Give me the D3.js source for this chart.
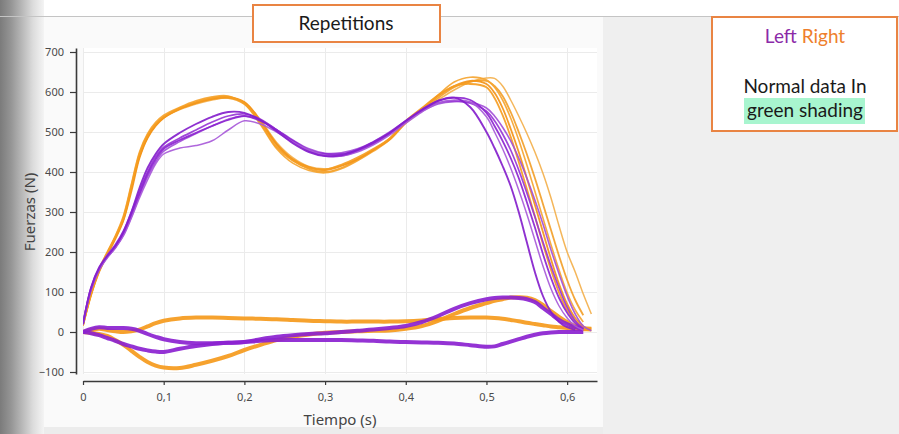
<!DOCTYPE html>
<html>
<head>
<meta charset="utf-8">
<script src="https://cdn.jsdelivr.net/npm/d3@7"></script>
<style>
    body { margin: 0; background: #efefef; }
    svg { display: block; }
</style>
</head>
<body>
<script>
// time grid (s)
const timeS = [0, .01, .02, .03, .04, .05, .06, .07, .08, .09, .10,
    .12, .14, .16, .18, .20, .22, .24, .26, .28, .30, .32, .34, .36, .38, .40, .42, .44, .46, .48, .50,
    .51, .52, .53, .54, .55, .56, .57, .58, .59, .60, .61, .62, .63];

// left (purple) vertical force, one array per repetition (N)
const leftRep1 = [20, 110, 160, 190, 215, 250, 300, 360, 410, 445, 470,
    498, 520, 538, 550, 548, 530, 502, 472, 450, 440, 442, 455, 475, 498, 528, 555, 578, 586, 562, 500,
    460, 415, 365, 300, 225, 150, 90, 50, 25, 12, 5, null, null];
const leftRep2 = [20, 105, 155, 185, 210, 240, 285, 335, 380, 420, 445,
    460, 466, 478, 505, 528, 520, 500, 475, 455, 442, 440, 450, 468, 492, 522, 550, 572, 580, 575, 538,
    500, 458, 410, 355, 295, 230, 165, 108, 65, 35, 15, 5, null];
const leftRep3 = [22, 108, 158, 188, 212, 245, 292, 345, 395, 432, 458,
    480, 498, 515, 530, 540, 528, 505, 478, 455, 445, 445, 455, 472, 497, 527, 556, 578, 586, 580, 548,
    515, 478, 435, 385, 325, 262, 195, 135, 85, 48, 22, 8, null];
const leftRep4 = [20, 112, 162, 192, 218, 252, 300, 352, 400, 438, 462,
    485, 505, 525, 540, 545, 532, 505, 476, 452, 440, 440, 452, 470, 495, 525, 553, 573, 578, 572, 552,
    528, 495, 455, 405, 348, 288, 225, 165, 110, 62, 28, 8, null];
const leftRep5 = [18, 105, 155, 186, 210, 242, 288, 340, 388, 425, 452,
    476, 496, 515, 532, 540, 530, 506, 480, 458, 447, 448, 458, 476, 500, 528, 552, 570, 576, 574, 560,
    540, 512, 478, 435, 385, 330, 270, 205, 145, 90, 45, 15, 3];

// right (orange) vertical force
const rightRep1 = [17, 95, 155, 198, 238, 285, 365, 445, 492, 520, 538,
    560, 575, 585, 588, 572, 522, 462, 428, 410, 406, 418, 436, 458, 484, 528, 560, 592, 615, 620, 612,
    585, 542, 488, 425, 358, 290, 220, 155, 98, 55, 28, 12, null];
const rightRep2 = [16, 92, 150, 192, 232, 278, 352, 435, 485, 515, 535,
    558, 573, 583, 587, 575, 528, 470, 432, 412, 405, 415, 432, 455, 482, 525, 558, 590, 615, 628, 620,
    598, 560, 508, 450, 385, 318, 250, 182, 120, 70, 35, 15, null];
const rightRep3 = [18, 98, 158, 200, 240, 290, 370, 450, 496, 524, 542,
    562, 578, 588, 590, 570, 518, 458, 422, 404, 398, 408, 428, 452, 480, 522, 556, 592, 625, 637, 630,
    612, 580, 535, 480, 418, 352, 285, 218, 155, 98, 55, 25, null];
const rightRep4 = [17, 94, 152, 195, 236, 282, 360, 440, 488, 518, 537,
    558, 572, 582, 585, 570, 525, 468, 430, 408, 400, 410, 430, 455, 483, 525, 555, 585, 612, 626, 628,
    615, 590, 550, 500, 445, 385, 320, 255, 190, 130, 80, 42, null];
const rightRep5 = [17, 96, 154, 196, 235, 280, 358, 438, 486, 516, 535,
    556, 570, 580, 585, 574, 530, 474, 436, 414, 408, 416, 432, 456, 482, 522, 552, 580, 605, 625, 635,
    634, 615, 580, 540, 497, 450, 397, 335, 265, 200, 150, 95, 45];

// small horizontal components
const rightShearA = [0, 5, 8, 5, 2, 0, 2, 6, 14, 22, 28,
    34, 36, 36, 35, 34, 33, 32, 30, 28, 27, 26, 26, 26, 26, 27, 29, 32, 35, 36, 36,
    35, 33, 30, 27, 23, 20, 17, 14, 12, 10, 8, 7, 6];
const rightShearB = [0, -2, -5, -10, -20, -32, -47, -62, -75, -84, -89,
    -90, -82, -72, -60, -45, -32, -20, -12, -6, -2, 0, 2, 3, 4, 8, 15, 28, 45, 60, 72,
    78, 82, 86, 87, 86, 80, 68, 52, 38, 25, 15, 10, 8];
const leftShearA = [0, 8, 12, 10, 10, 10, 8, 3, -5, -12, -18,
    -25, -28, -28, -27, -25, -18, -12, -8, -5, -3, 0, 3, 6, 10, 15, 25, 40, 58, 72, 82,
    85, 86, 86, 85, 82, 75, 60, 45, 30, 20, 12, 6, null];
const leftShearB = [0, -3, -8, -15, -22, -30, -36, -42, -46, -49, -50,
    -42, -35, -30, -27, -25, -22, -20, -20, -20, -20, -20, -21, -22, -24, -25, -26, -27, -29, -33, -37,
    -36, -30, -24, -18, -12, -7, -3, -1, 0, 0, 0, 0, null];

const yTicks = [-100, 0, 100, 200, 300, 400, 500, 600, 700];
const xTicks = [0, .1, .2, .3, .4, .5, .6];

const W = 899, H = 434;
const svg = d3.select('body').append('svg').attr('width', W).attr('height', H);

// backdrop of the slide
const defs = svg.append('defs');
const grad = defs.append('linearGradient').attr('id', 'edge').attr('x1', 0).attr('x2', 1);
[[0, '#7b7b7b'], [.25, '#959595'], [.5, '#b8b8b8'], [.75, '#dcdcdc'], [1, '#f4f4f4']]
    .forEach(s => grad.append('stop').attr('offset', s[0]).attr('stop-color', s[1]));

svg.append('rect').attr('width', W).attr('height', H).attr('fill', '#efefef');
svg.append('rect').attr('width', W).attr('height', 16).attr('fill', '#fff');
svg.append('rect').attr('x', 42).attr('y', 17).attr('width', 561).attr('height', 410).attr('fill', '#fafafa');
svg.append('rect').attr('x', 42).attr('y', 427).attr('width', 561).attr('height', 7).attr('fill', '#ececec');
svg.append('rect').attr('width', 44).attr('height', H).attr('fill', 'url(#edge)');
svg.append('line').attr('x1', 0).attr('x2', W).attr('y1', 16.5).attr('y2', 16.5)
    .attr('stroke', '#c4c4c4');

const x = d3.scaleLinear().domain([0, 0.637]).range([83, 597]);
const y = d3.scaleLinear().domain([-105, 710]).range([374, 48]);

svg.append('rect').attr('x', 83).attr('y', 48).attr('width', 514).attr('height', 326).attr('fill', '#fff');

// grid
const grid = svg.append('g').attr('stroke', '#ebebeb').attr('stroke-width', 1);
grid.selectAll('.gy').data(yTicks).join('line')
    .attr('x1', 83).attr('x2', 597)
    .attr('y1', d => Math.round(y(d)) + .5).attr('y2', d => Math.round(y(d)) + .5);
grid.selectAll('.gx').data(xTicks).join('line')
    .attr('y1', 48).attr('y2', 374)
    .attr('x1', d => Math.round(x(d)) + .5).attr('x2', d => Math.round(x(d)) + .5);

// axes
const esFormat = d3.formatLocale({decimal: ',', thousands: '.', grouping: [3], currency: ['', '']}).format('.1~f');

const gy = svg.append('g').attr('transform', 'translate(76,0)')
    .call(d3.axisLeft(y).tickValues(yTicks).tickSize(6).tickSizeOuter(0).tickPadding(6));
const gx = svg.append('g').attr('transform', 'translate(0,381)')
    .call(d3.axisBottom(x).tickValues(xTicks).tickSize(4).tickSizeOuter(0).tickPadding(8).tickFormat(esFormat));
[gy, gx].forEach(g => {
    g.select('.domain').attr('stroke', '#3a3a3a').attr('stroke-width', 1.6);
    g.selectAll('.tick line').attr('stroke', '#3a3a3a').attr('stroke-width', 1.2);
    g.selectAll('.tick text').attr('fill', '#4a4a4a')
        .style('font-family', '"Noto Sans", sans-serif').style('font-size', '11px');
});

svg.append('text').attr('x', 340).attr('y', 425).attr('text-anchor', 'middle')
    .attr('fill', '#444').style('font-family', '"Noto Sans", sans-serif').style('font-size', '15px')
    .text('Tiempo (s)');
svg.append('text').attr('transform', 'translate(35,212) rotate(-90)').attr('text-anchor', 'middle')
    .attr('fill', '#444').style('font-family', '"Noto Sans", sans-serif').style('font-size', '15px')
    .text('Fuerzas (N)');

// curves
defs.append('clipPath').attr('id', 'plot').append('rect')
    .attr('x', 83).attr('y', 40).attr('width', 514).attr('height', 340);

const line = d3.line()
    .defined(d => d[1] !== null)
    .x(d => x(d[0])).y(d => y(d[1]))
    .curve(d3.curveCatmullRom.alpha(0.5));
const pts = vals => timeS.map((t, i) => [t, vals[i]]);

const series = [
    {v: rightShearA, c: '#f59a1c', w: 4},
    {v: rightShearB, c: '#f59a1c', w: 4},
    {v: leftShearB, c: '#8b22d0', w: 4},
    {v: leftShearA, c: '#8b22d0', w: 4},
    {v: rightRep5, c: '#f3b04c', w: 1.5},
    {v: rightRep4, c: '#f2a02a', w: 1.8},
    {v: rightRep3, c: '#f5a531', w: 1.6},
    {v: rightRep2, c: '#f39418', w: 1.8},
    {v: rightRep1, c: '#f59d22', w: 1.8},
    {v: leftRep5, c: '#a24fd8', w: 1.6},
    {v: leftRep4, c: '#9836d6', w: 1.7},
    {v: leftRep3, c: '#8c25d0', w: 1.8},
    {v: leftRep2, c: '#a85ad9', w: 1.5},
    {v: leftRep1, c: '#8420cc', w: 1.9}
];

svg.append('g').attr('clip-path', 'url(#plot)').attr('fill', 'none')
    .selectAll('path').data(series).join('path')
    .attr('stroke', d => d.c).attr('stroke-width', d => d.w)
    .attr('stroke-opacity', .92).attr('stroke-linejoin', 'round')
    .attr('d', d => line(pts(d.v)));

// title box
const lbl = '"Lato", "Noto Sans", sans-serif';
svg.append('rect').attr('x', 253).attr('y', 5).attr('width', 187).attr('height', 37)
    .attr('fill', '#fff').attr('stroke', '#e98443').attr('stroke-width', 2);
svg.append('text').attr('x', 346).attr('y', 30).attr('text-anchor', 'middle')
    .attr('fill', '#1a1a1a').style('font-family', lbl).style('font-size', '19px')
    .text('Repetitions');

// legend box
svg.append('rect').attr('x', 712).attr('y', 17).attr('width', 185).attr('height', 114)
    .attr('fill', '#fff').attr('stroke', '#e98443').attr('stroke-width', 2);
const t1 = svg.append('text').attr('x', 805).attr('y', 43).attr('text-anchor', 'middle')
    .style('font-family', lbl).style('font-size', '19px');
t1.append('tspan').attr('fill', '#8b2aa8').text('Left ');
t1.append('tspan').attr('fill', '#ee7f2d').text('Right');
svg.append('rect').attr('x', 744).attr('y', 98).attr('width', 121).attr('height', 26).attr('fill', '#a8f5cf');
svg.append('text').attr('x', 805).attr('y', 93).attr('text-anchor', 'middle')
    .attr('fill', '#1a1a1a').style('font-family', lbl).style('font-size', '19px')
    .text('Normal data In');
svg.append('text').attr('x', 805).attr('y', 117).attr('text-anchor', 'middle')
    .attr('fill', '#1a1a1a').style('font-family', lbl).style('font-size', '19px')
    .text('green shading');
</script>
</body>
</html>
